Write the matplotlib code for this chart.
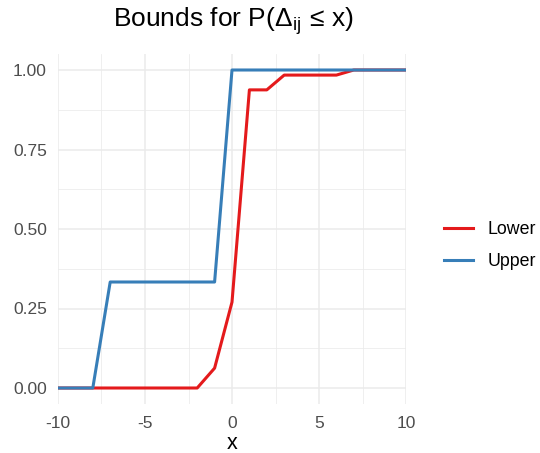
import matplotlib
matplotlib.use("Agg")
import matplotlib.pyplot as plt
from matplotlib.ticker import MultipleLocator

plt.rcParams['font.family'] = ['Liberation Sans', 'DejaVu Sans']
plt.rcParams['mathtext.fontset'] = 'custom'
plt.rcParams['mathtext.rm'] = 'Liberation Sans'
plt.rcParams['mathtext.it'] = 'Liberation Sans:italic'
plt.rcParams['axes.unicode_minus'] = False

x_vals = [-10, -9, -8, -7, -6, -5, -4, -3, -2, -1, 0, 1, 2, 3, 4, 5, 6, 7, 8, 9, 10]
lower = [0, 0, 0, 0, 0, 0, 0, 0, 0, 0.0625, 0.27, 0.9375, 0.9375, 0.984, 0.984, 0.984, 0.984, 1, 1, 1, 1]
upper = [0, 0, 0, 1/3, 1/3, 1/3, 1/3, 1/3, 1/3, 1/3, 1, 1, 1, 1, 1, 1, 1, 1, 1, 1, 1]
series_names = ["Lower", "Upper"]
colors = ["#E41A1C", "#377EB8"]
x_ticks = [-10, -5, 0, 5, 10]
y_ticks = [0, 0.25, 0.5, 0.75, 1.0]
y_tick_labels = ["0.00", "0.25", "0.50", "0.75", "1.00"]

fig = plt.figure(figsize=(5.4, 4.53), dpi=100)
ax = fig.add_axes([58/540, 1-403.9/453, 348/540, 349.8/453])

ax.plot(x_vals, lower, color=colors[0], lw=2.2, label=series_names[0], zorder=2)
ax.plot(x_vals, upper, color=colors[1], lw=2.2, label=series_names[1], zorder=3)

ax.set_xlim(-10, 10)
ax.set_ylim(-0.05, 1.05)
ax.set_xticks(x_ticks)
ax.set_xticklabels([str(t) for t in x_ticks])
ax.set_yticks(y_ticks)
ax.set_yticklabels(y_tick_labels)
ax.xaxis.set_minor_locator(MultipleLocator(2.5))
ax.yaxis.set_minor_locator(MultipleLocator(0.125))
ax.grid(which='major', color='#EBEBEB', lw=1.1)
ax.grid(which='minor', color='#EBEBEB', lw=0.55)
ax.set_axisbelow(True)
for s in ax.spines.values():
    s.set_visible(False)
ax.tick_params(which='both', length=0)
ax.tick_params(axis='y', pad=8, labelsize=12.5, labelcolor='#4D4D4D')
ax.tick_params(axis='x', pad=9, labelsize=12.5, labelcolor='#4D4D4D')
ax.set_xlabel('x', fontsize=15.5, labelpad=1)

fig.text(234/540, 1-21/453, r'Bounds for P($\Delta_{\mathrm{ij}}\,\leq\,$x)', ha='center', va='center', fontsize=19)

fig.legend(loc='center left', bbox_to_anchor=(444/540, 1-245.5/453), frameon=False,
           fontsize=12.8, handlelength=1.62, handletextpad=0.85, labelspacing=0.85,
           borderpad=0, borderaxespad=0)

fig.savefig('out.png', dpi=100)
